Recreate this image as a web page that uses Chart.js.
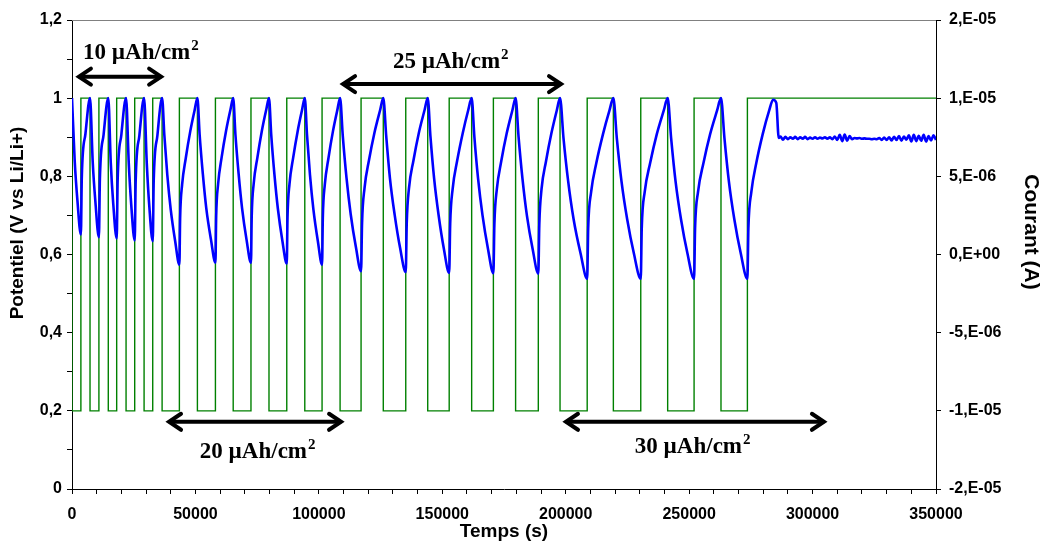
<!DOCTYPE html>
<html>
<head>
<meta charset="utf-8">
<script src="https://cdn.jsdelivr.net/npm/chart.js@4.4.0/dist/chart.umd.min.js"></script>
<style>
  html, body { margin: 0; padding: 0; background: #fff; }
  canvas { display: block; }
</style>
</head>
<body>
<canvas id="chart" width="1043" height="541"></canvas>
<script>
// === Data (time in s, potential in V, current in A) ===
const pot10 = [
  [0, 1], [1100, .839], [2200, .738], [3600, .651], [3970, .798], [5450, .909], [7300, 1],
  [8400, .836], [9500, .733], [10900, .644], [11300, .794], [12800, .907], [14700, 1],
  [15700, .835], [16700, .731], [18100, .641], [18500, .792], [20000, .907], [21900, 1],
  [23000, .833], [24000, .727], [25400, .636], [25800, .789], [27300, .905], [29200, 1],
  [30300, .832], [31300, .725], [32700, .634], [33100, .788], [34600, .905], [36500, 1]
];
const pot20 = [
  [37400, .906], [38600, .804], [40000, .715], [41800, .634], [43500, .574],
  [43800, .693], [44600, .778], [46100, .847], [47900, .915], [49700, .970], [50800, 1],
  [51700, .907], [53000, .806], [54400, .718], [56300, .638], [58100, .579],
  [58400, .697], [59200, .781], [60600, .848], [62400, .916], [64200, .971], [65300, 1],
  [66200, .907], [67500, .806], [68900, .718], [70700, .638], [72500, .579],
  [72800, .697], [73600, .781], [75100, .848], [76900, .916], [78700, .971], [79800, 1],
  [80700, .907], [82000, .805], [83400, .717], [85200, .636], [87000, .577],
  [87300, .695], [88100, .780], [89600, .848], [91400, .915], [93200, .970], [94300, 1],
  [95200, .906], [96400, .804], [97800, .715], [99600, .634], [101300, .574],
  [101600, .693], [102400, .778], [103900, .847], [105700, .915], [107500, .970], [108600, 1]
];
const pot25 = [
  [109700, .903], [111200, .796], [112900, .703], [115000, .619], [117100, .557],
  [117500, .681], [118500, .770], [120300, .841], [122500, .911], [124800, .969], [126100, 1],
  [127300, .902], [128800, .795], [130700, .702], [132900, .617], [135200, .555],
  [135600, .680], [136500, .769], [138300, .840], [140500, .911], [142800, .969], [144100, 1],
  [145200, .902], [146700, .794], [148500, .701], [150600, .616], [152800, .553],
  [153200, .678], [154200, .768], [156000, .839], [158300, .911], [160500, .969], [161900, 1],
  [163000, .901], [164500, .794], [166300, .700], [168500, .615], [170700, .552],
  [171100, .677], [172100, .767], [173900, .839], [176100, .910], [178400, .969], [179700, 1],
  [180900, .901], [182500, .793], [184300, .699], [186600, .614], [188900, .551],
  [189300, .677], [190200, .767], [192000, .838], [194200, .910], [196400, .969], [197700, 1]
];
const pot30 = [
  [199100, .898], [201000, .787], [203200, .690], [206000, .603], [208700, .538],
  [209100, .667], [210300, .760], [212400, .834], [215100, .908], [217700, .968], [219300, 1],
  [220700, .898], [222600, .787], [224900, .690], [227600, .603], [230400, .538],
  [230800, .667], [232000, .760], [234200, .834], [236900, .908], [239700, .968], [241300, 1],
  [242700, .898], [244500, .787], [246700, .690], [249300, .603], [252000, .538],
  [252400, .667], [253600, .760], [255800, .834], [258500, .908], [261300, .968], [262900, 1],
  [264300, .898], [266100, .787], [268300, .690], [270900, .603], [273600, .538],
  [274000, .667], [275200, .760], [277200, .834], [279800, .908], [282400, .968], [284000, .996]
];
const potRest = [
  [285300, .988], [286300, .898],
  [287000, .902], [288000, .894], [289000, .901], [290000, .895], [291000, .900], [292000, .896],
  [293000, .901], [294000, .895], [295000, .900], [296000, .896], [297000, .901], [298000, .895],
  [299000, .899], [300000, .896], [301000, .900], [302000, .896], [303000, .899], [304000, .897],
  [305000, .900], [306000, .896], [307000, .900], [308000, .895], [309000, .902], [310000, .893],
  [311000, .906], [312000, .890], [313000, .907], [314000, .891], [315000, .903], [316000, .895],
  [317000, .898], [318000, .897], [319000, .898], [320000, .896], [321000, .897], [322000, .896],
  [323000, .896], [324000, .895], [325000, .896], [326000, .895],
  [327000, .898], [328000, .893], [329000, .899], [330000, .893], [331000, .900], [332000, .892],
  [333000, .901], [334000, .893], [335000, .903], [336000, .891], [337000, .902], [338000, .894],
  [339000, .905], [340000, .889], [341000, .906], [342000, .890], [343000, .904], [344000, .891],
  [345000, .906], [346000, .889], [347000, .903], [348000, .892], [349000, .905], [350000, .893]
];

const H = 1e-5, L = -1e-5;
const currentSwitchS = [0, 0, 3600, 7300, 10900, 14700, 18100, 21900, 25400, 29200, 32700, 36500,
  43500, 50800, 58100, 65300, 72500, 79800, 87000, 94300, 101300, 108600,
  117100, 126100, 135200, 144100, 152800, 161900, 170700, 179700, 188900, 197700,
  208700, 219300, 230400, 241300, 252000, 262900, 273600, 350000];
const currentA = [H, L, H, L, H, L, H, L, H, L, H, L, H, L, H, L, H, L, H, L,
  H, L, H, L, H, L, H, L, H, L, H, L, H, L, H, L, H, L, H, H];

// right axis runs -1.5E-05..1.5E-05, Excel-style "0,E+00" labels round the ends
const rightTickValues = [1.5e-5, 1e-5, 5e-6, 0, -5e-6, -1e-5, -1.5e-5];
const rightTickLabels = ['2,E-05', '1,E-05', '5,E-06', '0,E+00', '-5,E-06', '-1,E-05', '-2,E-05'];

// annotations: capacity label, text anchor, arrow span (data units)
const noteLabels = ['10 µAh/cm', '25 µAh/cm', '20 µAh/cm', '30 µAh/cm'];
const noteX = [4500, 130000, 51800, 228000];
const noteY = [1.1, 1.076, 0.0795, 0.092];
const arrowFrom = [2400, 109400, 38900, 199700];
const arrowTo = [36500, 198500, 109400, 305000];
const arrowY = [1.055, 1.036, 0.172, 0.172];

const potentialData = [...pot10, ...pot20, ...pot25, ...pot30, ...potRest].map(p => ({ x: p[0], y: p[1] }));
const currentData = currentSwitchS.map((t, i) => ({ x: t, y: currentA[i] }));

const sans = "'Liberation Sans', Arial, sans-serif";
const axisFont = { family: sans, size: 16, weight: 'bold' };
const titleFont = { family: sans, size: 19, weight: 'bold', lineHeight: 1 };

// === Annotation plugin ===
function drawArrow(ctx, x1, x2, y) {
  ctx.save();
  ctx.strokeStyle = '#000';
  ctx.lineWidth = 4;
  ctx.lineCap = 'round';
  ctx.lineJoin = 'miter';
  ctx.beginPath();
  ctx.moveTo(x1 + 2, y);
  ctx.lineTo(x2 - 2, y);
  ctx.stroke();
  ctx.beginPath();
  ctx.moveTo(x1 + 13, y - 8);
  ctx.lineTo(x1 + 1, y);
  ctx.lineTo(x1 + 13, y + 8);
  ctx.moveTo(x2 - 13, y - 8);
  ctx.lineTo(x2 - 1, y);
  ctx.lineTo(x2 - 13, y + 8);
  ctx.stroke();
  ctx.restore();
}

function drawVerticalTitle(ctx, text, x, y, angle, size) {
  ctx.save();
  ctx.translate(x, y);
  ctx.rotate(angle);
  ctx.fillStyle = '#000';
  ctx.font = 'bold ' + size + 'px ' + sans;
  ctx.textAlign = 'center';
  ctx.textBaseline = 'middle';
  ctx.fillText(text, 0, 0);
  ctx.restore();
}

const notesPlugin = {
  id: 'notes',
  afterDraw(chart) {
    const ctx = chart.ctx;
    const xs = chart.scales.x, ys = chart.scales.y;
    const area = chart.chartArea;
    // frame top edge
    ctx.save();
    ctx.strokeStyle = '#808080';
    ctx.lineWidth = 1;
    ctx.beginPath();
    ctx.moveTo(area.left, area.top + 0.5);
    ctx.lineTo(area.right, area.top + 0.5);
    ctx.stroke();
    ctx.restore();

    // axis titles sit a little above centre, as in the source
    drawVerticalTitle(ctx, 'Potentiel (V vs Li/Li+)', 18, 223, -Math.PI / 2, 19);
    drawVerticalTitle(ctx, 'Courant (A)', 1031, 232, Math.PI / 2, 21);

    noteLabels.forEach((txt, i) => {
      drawArrow(ctx, xs.getPixelForValue(arrowFrom[i]), xs.getPixelForValue(arrowTo[i]), ys.getPixelForValue(arrowY[i]));
      const tx = xs.getPixelForValue(noteX[i]);
      const ty = ys.getPixelForValue(noteY[i]);
      ctx.save();
      ctx.fillStyle = '#000';
      ctx.textBaseline = 'alphabetic';
      ctx.textAlign = 'left';
      ctx.font = "bold 23px 'Liberation Serif', 'Times New Roman', serif";
      ctx.fillText(txt, tx, ty);
      const w = ctx.measureText(txt).width;
      ctx.font = "bold 15px 'Liberation Serif', 'Times New Roman', serif";
      ctx.fillText('2', tx + w + 1, ty - 9);
      ctx.restore();
    });
  }
};

// === Chart ===
new Chart(document.getElementById('chart').getContext('2d'), {
  type: 'line',
  data: {
    datasets: [
      {
        label: 'Potentiel',
        data: potentialData,
        yAxisID: 'y',
        borderColor: '#0000FF',
        borderWidth: 2.6,
        pointRadius: 0,
        cubicInterpolationMode: 'monotone'
      },
      {
        label: 'Courant',
        data: currentData,
        yAxisID: 'y1',
        borderColor: '#008000',
        borderWidth: 1.4,
        pointRadius: 0,
        stepped: true
      }
    ]
  },
  options: {
    responsive: false,
    animation: false,
    layout: { padding: { top: 20, left: 0, right: 0, bottom: 0 } },
    plugins: { legend: { display: false }, tooltip: { enabled: false } },
    scales: {
      x: {
        type: 'linear',
        min: 0,
        max: 350000,
        afterFit: s => { s.height = 52; },
        ticks: {
          stepSize: 10000,
          autoSkip: false,
          maxRotation: 0,
          color: '#000',
          font: axisFont,
          padding: 11,
          callback: v => (v % 50000 === 0 ? String(v) : '')
        },
        grid: { drawOnChartArea: false, drawTicks: true, tickLength: 5, color: '#000' },
        border: { display: true, color: '#000', width: 1 },
        title: { display: true, text: 'Temps (s)', color: '#000', font: titleFont, padding: { top: 0, bottom: 0 } }
      },
      y: {
        position: 'left',
        min: 0,
        max: 1.2,
        afterFit: s => { s.width = 72; },
        ticks: {
          stepSize: 0.1,
          autoSkip: false,
          color: '#000',
          font: axisFont,
          padding: 5,
          callback: v => {
            const k = Math.round(v * 10);
            return k % 2 === 0 ? String(k / 10).replace('.', ',') : '';
          }
        },
        grid: { drawOnChartArea: false, drawTicks: true, tickLength: 5, color: '#000' },
        border: { display: true, color: '#000', width: 1 },
        title: { display: false }
      },
      y1: {
        position: 'right',
        min: -1.5e-5,
        max: 1.5e-5,
        afterFit: s => { s.width = 107; },
        afterBuildTicks: s => { s.ticks = rightTickValues.map(v => ({ value: v })); },
        ticks: {
          autoSkip: false,
          color: '#000',
          font: axisFont,
          padding: 8,
          callback: (v, i) => rightTickLabels[i]
        },
        grid: { drawOnChartArea: false, drawTicks: true, tickLength: 5, color: '#000' },
        border: { display: true, color: '#000', width: 1 },
        title: { display: false }
      }
    }
  },
  plugins: [notesPlugin]
});
</script>
</body>
</html>
